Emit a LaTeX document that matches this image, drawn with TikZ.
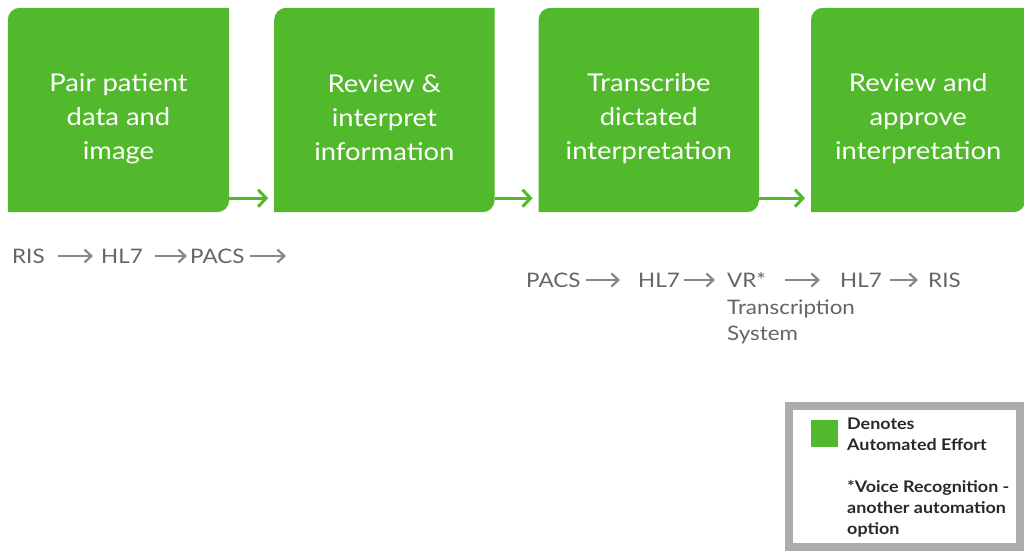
\documentclass[tikz,border=0pt]{standalone}
\usepackage{fontspec}
\setmainfont{Lato}[FakeStretch=1.12]
\usetikzlibrary{arrows.meta}
\usetikzlibrary{backgrounds}
\usetikzlibrary{positioning}
\definecolor{autogreen}{RGB}{82,185,44}
\definecolor{labelgray}{RGB}{100,100,100}
\definecolor{arrowgray}{RGB}{135,135,135}
\definecolor{framegray}{RGB}{172,172,172}
\definecolor{notegray}{RGB}{40,40,40}
\tikzstyle{stage} = [rectangle, minimum width=220pt, minimum height=204pt, inner sep=0pt]
\tikzstyle{stagetext} = [inner sep=0pt, align=center, text=white, font=\fontsize{24.5}{34}\selectfont]
\tikzstyle{sys} = [inner sep=0pt, anchor=west, text height=14pt, text depth=0pt, text=labelgray, font=\fontsize{20}{26}\selectfont]
\tikzstyle{arrow} = [line width=3pt, autogreen, -{Straight Barb[length=8pt, width=17pt]}, shorten >=6pt]
\tikzstyle{flow} = [line width=2.2pt, arrowgray, -{Straight Barb[length=7pt, width=13pt]}]

\begin{document}
\begin{tikzpicture}[x=1pt, y=-1pt]
            \useasboundingbox (0,0) rectangle (1024,551);
            % workflow stages
            \node[stage, minimum width=221pt] (pair) at (118.5,110) {};
            \node[stage, right=45pt of pair] (review) {};
            \node[stage, right=44pt of review] (transcribe) {};
            \node[stage, minimum width=214pt, right=52pt of transcribe] (approve) {};
            \foreach \b in {pair, review, transcribe, approve}
                \fill[autogreen] (\b.south west) -- ([yshift=-12pt]\b.north west) arc[start angle=180, end angle=90, radius=12pt] -- (\b.north east) -- ([yshift=12pt]\b.south east) arc[start angle=0, end angle=-90, radius=12pt] -- cycle;
            \node[stagetext] (pairtxt) at ([yshift=-9pt]pair.center) {Pair patient\\data and\\image};
            \node[stagetext] (reviewtxt) at ([yshift=-8pt]review.center) {Review \&\\interpret\\information};
            \node[stagetext] (transcribetxt) at ([yshift=-9pt]transcribe.center) {Transcribe\\dictated\\interpretation};
            \node[stagetext] (approvetxt) at ([yshift=-9pt]approve.center) {Review and\\approve\\interpretation};
            \draw[arrow] ([yshift=14pt]pair.south east) -- ([yshift=14pt]review.south west);
            \draw[arrow] ([yshift=14pt]review.south east) -- ([yshift=14pt]transcribe.south west);
            \draw[arrow] ([yshift=14pt]transcribe.south east) -- ([yshift=14pt]approve.south west);
            % systems, first part
            \node[sys] (risA) at (12,256) {RIS};
            \node[sys] (hlA) at (101,256) {HL7};
            \node[sys] (pacsA) at (190,256) {PACS};
            \coordinate (outA) at (286,256);
            \draw[flow] ([xshift=13pt]risA.east) -- ([xshift=-8pt]hlA.west);
            \draw[flow] ([xshift=12pt]hlA.east) -- ([xshift=-3pt]pacsA.west);
            \draw[flow] ([xshift=5pt]pacsA.east) -- (outA);
            % systems, second part
            \node[sys] (pacsB) at (526,280) {PACS};
            \node[sys] (hlB) at (638,280) {HL7};
            \node[sys] (vr) at (727,280) {VR*};
            \node[sys] (hlC) at (840,280) {HL7};
            \node[sys] (risB) at (928,280) {RIS};
            \node[anchor=north west, inner sep=0pt, align=left, text=labelgray, font=\fontsize{20}{26}\selectfont] (vrsys) at ([yshift=-12pt]vr.south west) {Transcription\\System};
            \draw[flow] ([xshift=5pt]pacsB.east) -- ([xshift=-18pt]hlB.west);
            \draw[flow] ([xshift=4pt]hlB.east) -- ([xshift=-12pt]vr.west);
            \draw[flow] ([xshift=19pt]vr.east) -- ([xshift=-20pt]hlC.west);
            \draw[flow] ([xshift=8pt]hlC.east) -- ([xshift=-10pt]risB.west);
            % legend
            \node[draw=framegray, line width=8pt, minimum width=231pt, minimum height=141pt, inner sep=0pt] (legend) at (904.5,476.5) {};
            \node[fill=autogreen, minimum size=27pt, inner sep=0pt] (swatch) at (824.5,433.5) {};
            \node[anchor=north west, inner sep=0pt, align=left, text=notegray, font=\bfseries\fontsize{16}{21}\selectfont] (note) at (847,418) {Denotes\\Automated Effort\\[21pt]*Voice Recognition -\\another automation\\option};
        \end{tikzpicture}
\end{document}
